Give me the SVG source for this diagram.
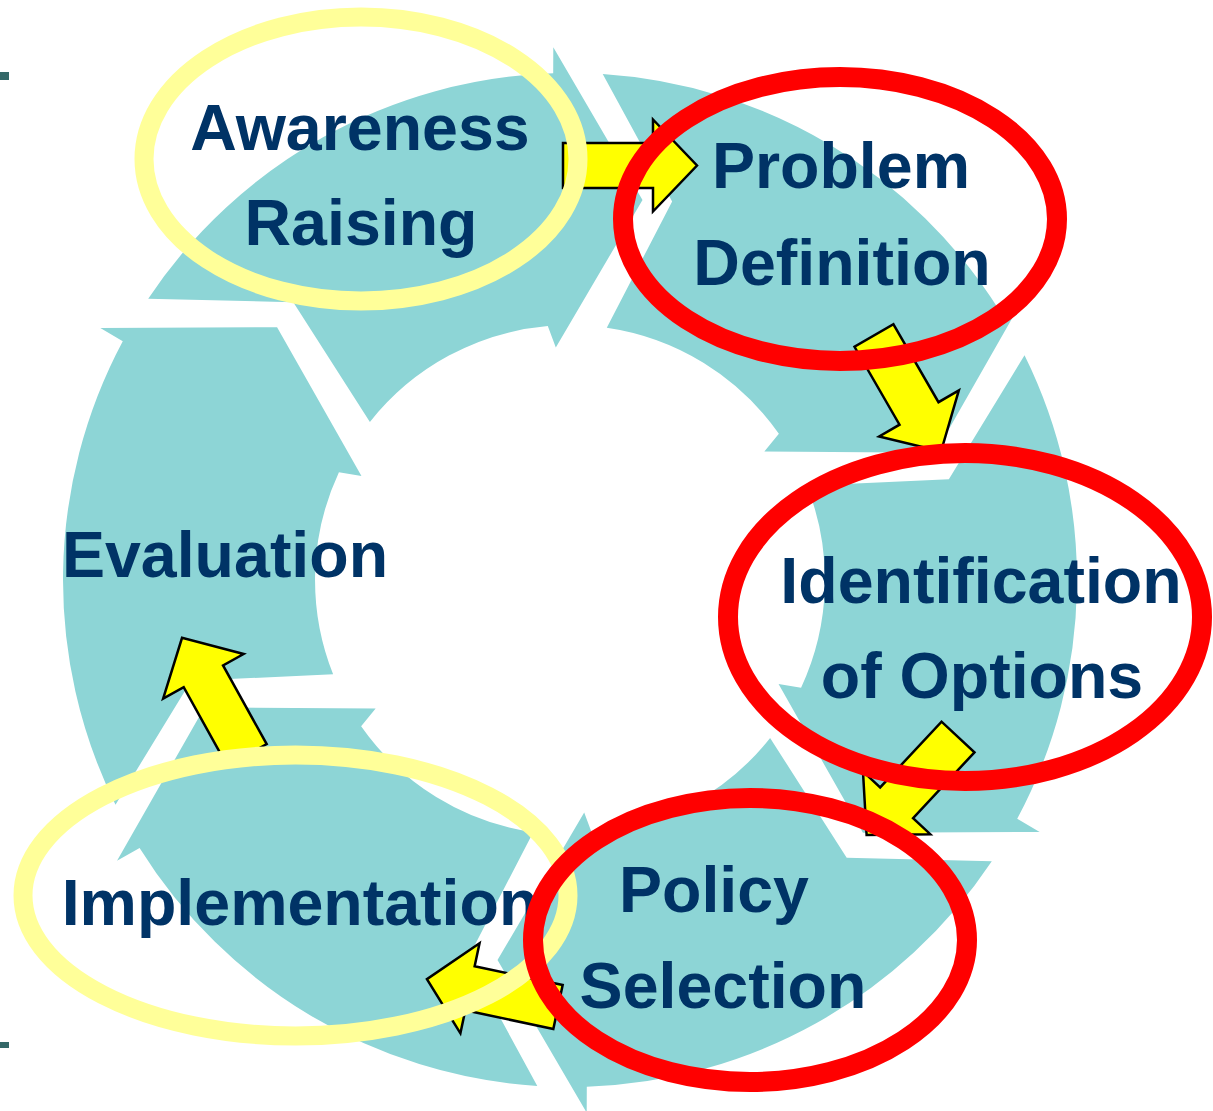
<svg xmlns="http://www.w3.org/2000/svg" xmlns:xlink="http://www.w3.org/1999/xlink" width="1213" height="1111" viewBox="0 0 1213 1111">
<style>
.seg{fill:#8DD5D6;}
.lbl{font-family:"Liberation Sans",Arial,sans-serif;font-weight:bold;font-size:64.5px;fill:#003366;text-anchor:middle;}
.arr{fill:#FFFF00;stroke:#000;stroke-width:2.5;stroke-linejoin:miter;}
.hy{fill:none;stroke:#FFFF99;stroke-width:19;}
.hr{fill:none;stroke:#FF0000;stroke-width:20;}
.mk{fill:#346868;}
</style>
<defs>
<path id="segShape" d="M -421.8,-281.3 A 507 507 0 0 1 -16.8,-506.7 L -16.7,-532.7 L 72.5,-380.1 L -14.2,-232.6 L -22.2,-254.0 A 255 255 0 0 0 -200.1,-158.0 L -276.7,-277.7 Z"/>
<polygon id="blockArrow" points="0,-22.5 90,-22.5 90,-46 134,0 90,46 90,22.5 0,22.5"/>
</defs>
<rect width="1213" height="1111" fill="#FFFFFF"/>
<rect class="mk" x="0" y="72" width="9" height="8"/>
<rect class="mk" x="0" y="1042" width="9" height="6"/>
<g id="node-awareness">
<use xlink:href="#segShape" href="#segShape" class="seg" transform="translate(570,580) rotate(0)"/>
<text class="lbl" x="360" y="150">Awareness</text>
<text class="lbl" x="361" y="245">Raising</text>
</g>
<g id="node-problem">
<use xlink:href="#segShape" href="#segShape" class="seg" transform="translate(570,580) rotate(60)"/>
<text class="lbl" x="841" y="188">Problem</text>
<text class="lbl" x="842" y="285">Definition</text>
</g>
<g id="node-identification">
<use xlink:href="#segShape" href="#segShape" class="seg" transform="translate(570,580) rotate(120)"/>
<text class="lbl" x="981" y="603">Identification</text>
<text class="lbl" x="982" y="698">of Options</text>
</g>
<g id="node-policy">
<use xlink:href="#segShape" href="#segShape" class="seg" transform="translate(570,580) rotate(180)"/>
<text class="lbl" x="714" y="912">Policy</text>
<text class="lbl" x="723" y="1008">Selection</text>
</g>
<g id="node-implementation">
<use xlink:href="#segShape" href="#segShape" class="seg" transform="translate(570,580) rotate(240)"/>
<text class="lbl" x="300" y="925">Implementation</text>
</g>
<g id="node-evaluation">
<use xlink:href="#segShape" href="#segShape" class="seg" transform="translate(570,580) rotate(300)"/>
<text class="lbl" x="225" y="577">Evaluation</text>
</g>
<g id="connectors">
<use xlink:href="#blockArrow" href="#blockArrow" class="arr" transform="translate(563,165.5)"/>
<use xlink:href="#blockArrow" href="#blockArrow" class="arr" transform="translate(874,335.5) rotate(60)"/>
<use xlink:href="#blockArrow" href="#blockArrow" class="arr" transform="translate(958,737) rotate(133)"/>
<use xlink:href="#blockArrow" href="#blockArrow" class="arr" transform="translate(558,1007) rotate(192)"/>
<use xlink:href="#blockArrow" href="#blockArrow" class="arr" transform="translate(247,755) rotate(241)"/>
</g>
<g id="highlights">
<ellipse class="hy" cx="361" cy="159" rx="217" ry="142"/>
<ellipse class="hy" cx="295.5" cy="895.5" rx="272.5" ry="140.5"/>
<ellipse class="hr" cx="840" cy="219" rx="217" ry="142"/>
<ellipse class="hr" cx="965" cy="617" rx="237" ry="164"/>
<ellipse class="hr" cx="750" cy="940" rx="217" ry="142"/>
</g>
</svg>
